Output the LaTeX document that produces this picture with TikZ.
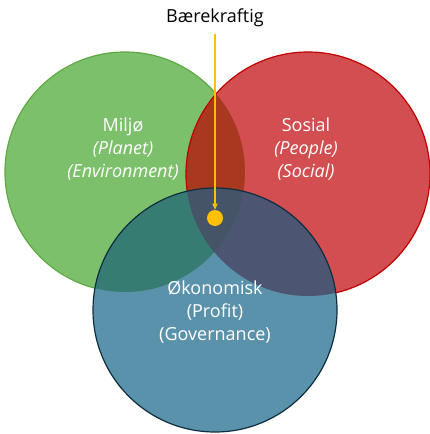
\documentclass[tikz,border=0pt]{standalone}
\usepackage{fontspec}
\setmainfont{Open Sans}
\usepackage{xcolor}
\usepackage{tikz}
\usetikzlibrary{arrows.meta,positioning}
\definecolor{MiljoGreen}{HTML}{7DC06C}
\definecolor{MiljoEdge}{HTML}{5DAA44}
\definecolor{SosialRed}{HTML}{D24E51}
\definecolor{SosialEdge}{HTML}{C00000}
\definecolor{OkoBlue}{HTML}{5B92AB}
\definecolor{OkoEdge}{HTML}{0E2E40}
\definecolor{MixGR}{HTML}{A8391F}
\definecolor{MixGB}{HTML}{367C72}
\definecolor{MixRB}{HTML}{4C5672}
\definecolor{MixAll}{HTML}{465467}
\definecolor{SunYellow}{HTML}{FFC000}

\begin{document}
\begin{tikzpicture}[x=1pt, y=-1pt, every node/.style={font=\fontsize{18}{23}\selectfont}, t/.style={text=white,align=center}, a/.style={-{Triangle[length=2.2mm,width=1.8mm]},line width=1.3pt,SunYellow}]
\useasboundingbox (0,0) rectangle (430,434);
\coordinate (gc) at (125,172);
\coordinate (rc) at (308,174);
\coordinate (bc) at (215,310);
% Miljø
\fill[MiljoGreen] (gc) circle (120pt);
\draw[MiljoEdge,line width=1.2pt] (gc) circle (120pt);
% Sosial
\fill[SosialRed] (rc) circle (122pt);
\begin{scope}
\clip (gc) circle (120pt);
\fill[MixGR] (rc) circle (122pt);
\end{scope}
\draw[SosialEdge,line width=1.2pt] (rc) circle (122pt);
% Økonomisk
\fill[OkoBlue] (bc) circle (122pt);
\begin{scope}
\clip (gc) circle (120pt);
\fill[MixGB] (bc) circle (122pt);
\end{scope}
\begin{scope}
\clip (rc) circle (122pt);
\fill[MixRB] (bc) circle (122pt);
\end{scope}
\begin{scope}
\clip (gc) circle (120pt);
\clip (rc) circle (122pt);
\fill[MixAll] (bc) circle (122pt);
\end{scope}
\draw[OkoEdge,line width=1.2pt] (bc) circle (122pt);
% tekst
\node[t] (miljo) at (123,149) {Miljø\\\textit{(Planet)}\\\textit{(Environment)}};
\node[t] (sosial) at (306,149) {Sosial\\\textit{(People)}\\\textit{(Social)}};
\node[t] (oko) at (215,312) {Økonomisk\\(Profit)\\(Governance)};
\node (baere) at (215,18) {Bærekraftig};
\node[circle,fill=SunYellow,minimum size=16pt,inner sep=0pt] (kjerne) at (215,218) {};
\draw[a] ([yshift=-3pt]baere.south) -- (kjerne.north);
\end{tikzpicture}
\end{document}
